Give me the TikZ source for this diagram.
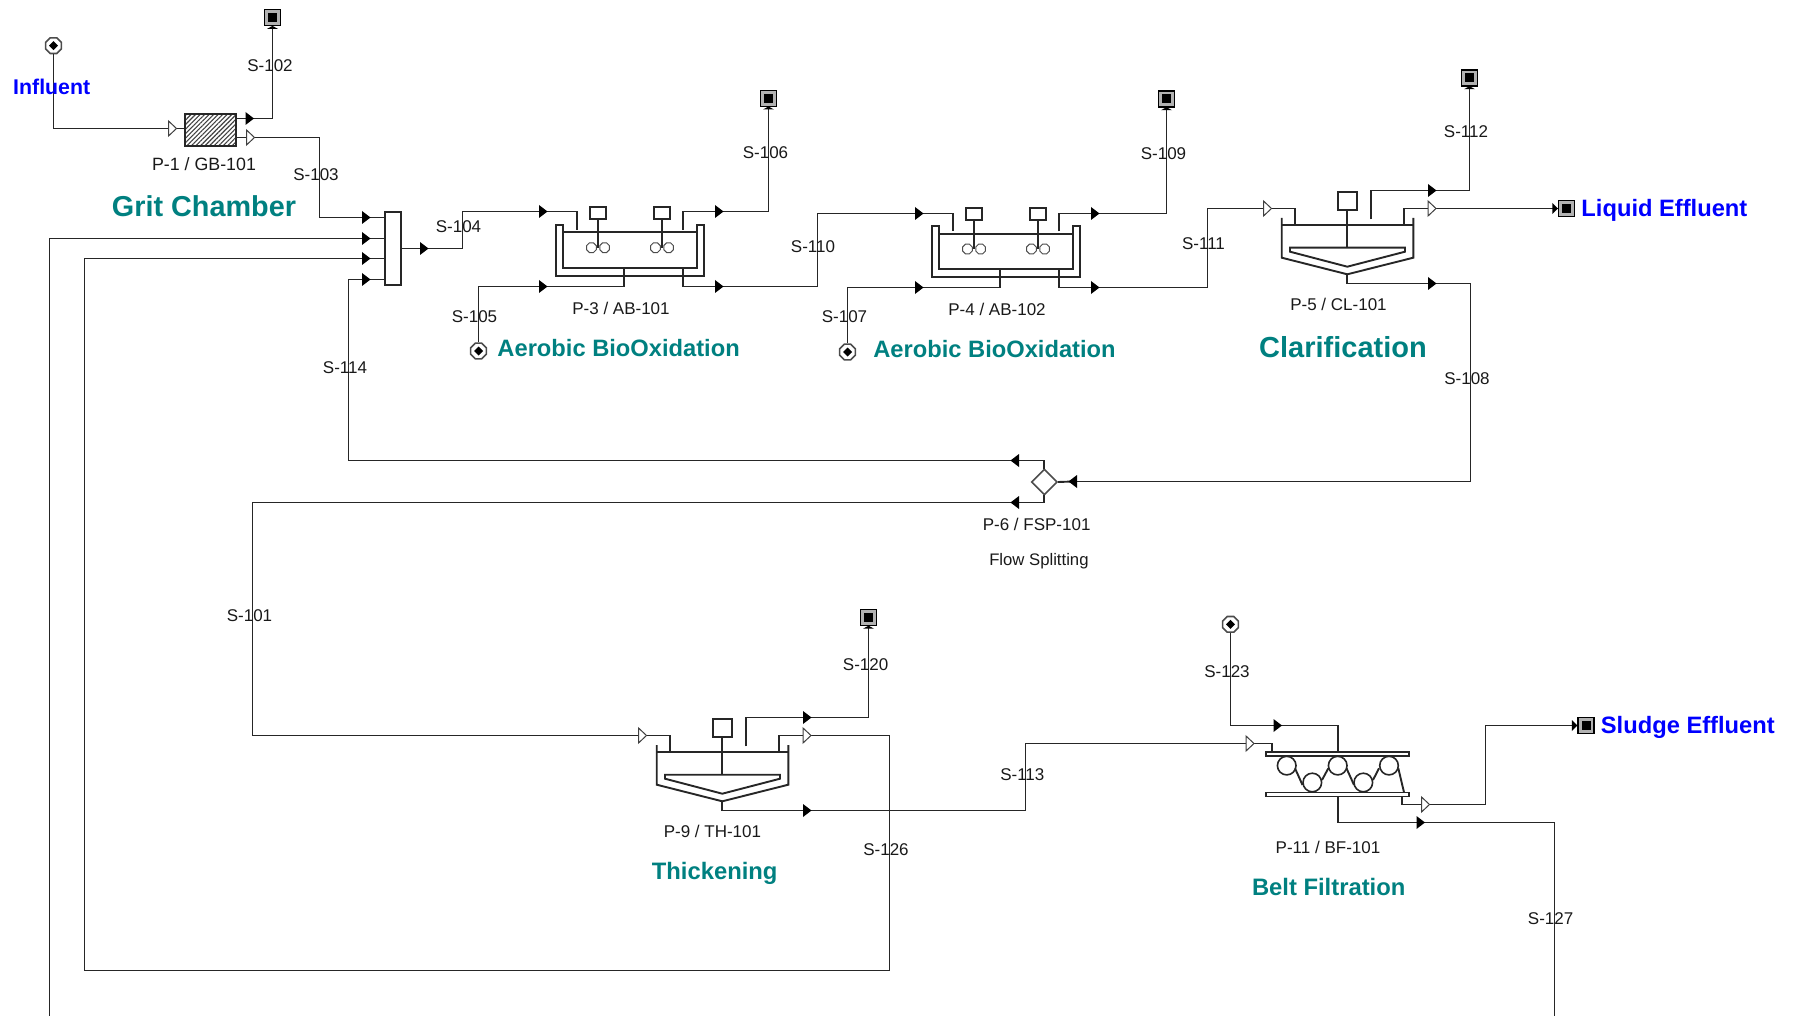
\documentclass[tikz,border=0pt]{standalone}
\usepackage{fontspec}
\setmainfont{Liberation Sans}
\usetikzlibrary{shapes.geometric,patterns.meta,calc}
\definecolor{tealtxt}{HTML}{008080}
\definecolor{bluetxt}{HTML}{0000FF}
\definecolor{ink}{HTML}{262626}
\tikzset{
  flow/.style={draw=ink,line width=1.2pt,line join=miter},
  equip/.style={draw=ink,line width=1.9pt,line join=miter},
  lab/.style={inner sep=0pt,yshift=-0.6pt,font=\fontsize{17}{20}\selectfont,text=black!90},
  smalllab/.style={inner sep=0pt,font=\fontsize{16.7}{20}\selectfont,text=black!90},
  heading/.style={inner sep=0pt,text=tealtxt,font=\fontsize{#1}{#1}\selectfont\bfseries},
  terminal/.style={inner sep=0pt,text=bluetxt,font=\fontsize{#1}{#1}\selectfont\bfseries},
  sinknode/.style={rectangle,draw=black,line width=1.4pt,fill=black!30,minimum size=16pt,inner sep=0pt,
    path picture={\fill[black] (-4.5,-4.5) rectangle (4.5,4.5);}},
  sourcenode/.style={regular polygon,regular polygon sides=8,draw=black!70,line width=1.6pt,fill=white,
    minimum size=17pt,inner sep=0pt,
    path picture={\fill[black] (-4.5,0) -- (0,-4.5) -- (4.5,0) -- (0,4.5) -- cycle;}},
  impeller/.style={regular polygon,regular polygon sides=8,draw=black!70,line width=1pt,fill=white,
    minimum size=10.5pt,inner sep=0pt},
  solidtip/.pic={\fill[black] (-4,-6.5) -- (4.5,0) -- (-4,6.5) -- cycle;},
  opentip/.pic={\draw[draw=black!75,fill=white,line width=1pt] (-3.5,-7.5) -- (4.5,0) -- (-3.5,7.5) -- cycle;},
  aerobic/.pic={
    \draw[equip] (-66.7,-25) -- (-74.3,-25) -- (-74.3,25.7) -- (74,25.7) -- (74,-25) -- (66.7,-25)
       -- (66.7,17.7) -- (-66.7,17.7) -- cycle;
    \draw[equip] (-66.7,-17.7) -- (66.7,-17.7);
    \draw[equip] (-40,-43.3) rectangle (-24,-31.3);
    \draw[equip] (24,-43.3) rectangle (40,-31.3);
    \draw[equip,line width=1.4pt] (-32,-31.3) -- (-32,-2.3);
    \draw[equip,line width=1.4pt] (32,-31.3) -- (32,-2.3);
    \node[impeller] (-ia) at (-38.6,-2.3) {};
    \node[impeller] (-ib) at (-25.4,-2.3) {};
    \node[impeller] (-ic) at (25.4,-2.3) {};
    \node[impeller] (-id) at (38.6,-2.3) {};
    \coordinate (-intop) at (-53.3,-20);
    \coordinate (-inbot) at (-6,17.7);
    \coordinate (-outtop) at (53.3,-20);
    \coordinate (-outbot) at (53.3,17.7);
  },
  settler/.pic={
    \draw[equip] (-65.6,-7.3) -- (-65.6,32.4) -- (0,49) -- (66,32.4) -- (66,-7.3);
    \draw[equip] (-65.6,0) -- (66,0);
    \draw[equip] (-57.3,22.4) -- (57.7,22.4) -- (57.7,26.4) -- (0,41.4) -- (-57.3,26.4) -- cycle;
    \draw[equip] (-9.3,-33) rectangle (9.7,-15.6);
    \draw[equip] (0,-15.6) -- (0,22.4);
    \coordinate (-in) at (-52.6,0);
    \coordinate (-top) at (23.7,-6);
    \coordinate (-out) at (56.7,0);
    \coordinate (-bot) at (0,49);
  },
}
\begin{document}
\begin{tikzpicture}[x=1pt,y=-1pt]
\useasboundingbox (0,0) rectangle (1793,1016);

% --- equipment
\node[rectangle,draw=ink,line width=1.8pt,minimum width=51pt,minimum height=32pt,inner sep=0pt,
  pattern={Lines[angle=45,distance=3.2pt,line width=1.1pt]},pattern color=black!75] (gb) at (210.2,130) {};
\node[rectangle,draw=ink,line width=1.8pt,minimum width=15.5pt,minimum height=73pt,inner sep=0pt] (mix) at (393,248.5) {};
\node[diamond,draw=black!70,line width=1.6pt,minimum width=26pt,minimum height=26pt,inner sep=0pt] (split) at (1044.3,482) {};
\pic (abA) at (630,250) {aerobic};
\pic (abB) at (1006,251.3) {aerobic};
\pic (cl) at (1347.3,225.3) {settler};
\pic (th) at (722.3,752.3) {settler};
% belt filter
\node[rectangle,draw=ink,line width=1.6pt,minimum width=143pt,minimum height=4pt,inner sep=0pt] (beltT) at (1337.7,753.7) {};
\node[rectangle,draw=ink,line width=1.6pt,minimum width=143pt,minimum height=4pt,inner sep=0pt] (beltB) at (1337.7,794.5) {};
\node[circle,draw=ink,line width=1.6pt,minimum size=18.6pt,inner sep=0pt] (r1) at (1286.7,765.6) {};
\node[circle,draw=ink,line width=1.6pt,minimum size=18.6pt,inner sep=0pt] (r2) at (1312.3,782.5) {};
\node[circle,draw=ink,line width=1.6pt,minimum size=18.6pt,inner sep=0pt] (r3) at (1337.7,765.6) {};
\node[circle,draw=ink,line width=1.6pt,minimum size=18.6pt,inner sep=0pt] (r4) at (1363.3,782.5) {};
\node[circle,draw=ink,line width=1.6pt,minimum size=18.6pt,inner sep=0pt] (r5) at (1389,765.6) {};
\draw[equip] (1295,768.3) -- (1302.5,785);
\draw[equip] (1322,780) -- (1328.3,768.3);
\draw[equip] (1346.5,768.3) -- (1354,785);
\draw[equip] (1373,780) -- (1379,768.3);
\draw[equip] (1398.3,768.3) -- (1404,792.3);

% --- sinks and sources
\node[sinknode] (s102) at (272.5,17.7) {};
\node[sinknode] (s106) at (768.5,98.3) {};
\node[sinknode] (s109) at (1166.5,99) {};
\node[sinknode] (s112) at (1469.5,78) {};
\node[sinknode] (s120) at (868.5,617.5) {};
\node[sinknode] (sLiq) at (1566.6,208.5) {};
\node[sinknode] (sSlu) at (1586,725.5) {};
\node[sourcenode] (srcIn) at (53.5,45.7) {};
\node[sourcenode] (src105) at (478.5,351) {};
\node[sourcenode] (src107) at (847.5,352) {};
\node[sourcenode] (src123) at (1230.5,624.3) {};

% --- marker positions on the streams
\coordinate (oIn) at (172,128.5);
\coordinate (t102) at (249.5,118.5);
\coordinate (o103) at (250,137.5);
\coordinate (tM1) at (366,217.5);
\coordinate (tM2) at (366,238.5);
\coordinate (tM3) at (366,258.5);
\coordinate (tM4) at (366,279.5);
\coordinate (tMx) at (424,248.5);
\coordinate (tA1) at (543,211.5);
\coordinate (tA2) at (543,286.5);
\coordinate (tA3) at (719,211.5);
\coordinate (tA4) at (719,286.5);
\coordinate (tB1) at (919,213.5);
\coordinate (tB2) at (919,287.5);
\coordinate (tB3) at (1095,213.5);
\coordinate (tB4) at (1095,287.5);
\coordinate (oCin) at (1267,208.5);
\coordinate (tCt) at (1432,190.5);
\coordinate (oCo) at (1431.5,208.5);
\coordinate (tCb) at (1432,283.5);
\coordinate (tS0) at (1073,481.5);
\coordinate (tS1) at (1015,460.5);
\coordinate (tS2) at (1015,502.5);
\coordinate (oTin) at (642,735.5);
\coordinate (tTt) at (807,717.5);
\coordinate (oTo) at (806.5,735.5);
\coordinate (tTb) at (807,810.5);
\coordinate (oBin) at (1249.5,743.5);
\coordinate (tBt) at (1277.5,725.5);
\coordinate (oBo) at (1425,804.5);
\coordinate (tBb) at (1420.5,822.5);
\coordinate (botL) at (49.5,1016);
\coordinate (botR) at (1554.5,1016);
\coordinate (belTop) at (1337.7,751.7);
\coordinate (belBot) at (1337.7,796.7);
\coordinate (belIn) at (1272.3,751.7);
\coordinate (belOut) at (1401.7,796.7);
\coordinate (splT) at (1044.3,469);
\coordinate (splB) at (1044.3,495);

% --- streams
\draw[flow] (srcIn.south) |- (oIn);
\draw[flow] (oIn) -- (gb.west |- oIn);
\draw[equip] (gb.east |- t102) -- (t102);
\draw[flow] (t102) -| (s102.south);
\draw[equip] (gb.east |- o103) -- (o103);
\draw[flow] (o103) -| (319.5,217.5) -- (tM1);
\draw[equip] (tM1) -- (mix.west |- tM1);
\draw[flow] (botL) |- (tM2);
\draw[equip] (tM2) -- (mix.west |- tM2);
\draw[equip] (tM3) -- (mix.west |- tM3);
\draw[equip] (tM4) -- (mix.west |- tM4);
\draw[equip] (mix.east |- tMx) -- (tMx);
\draw[flow] (tMx) -| (462.5,230) |- (tA1);
\draw[equip] (tA1) -| (abA-intop);
\draw[flow] (src105.north) |- (tA2);
\draw[equip] (tA2) -| (abA-inbot);
\draw[equip] (abA-outtop) |- (tA3);
\draw[flow] (tA3) -| (s106.south);
\draw[equip] (abA-outbot) |- (tA4);
\draw[flow] (tA4) -| (817.5,250) |- (tB1);
\draw[equip] (tB1) -| (abB-intop);
\draw[flow] (src107.north) |- (tB2);
\draw[equip] (tB2) -| (abB-inbot);
\draw[equip] (abB-outtop) |- (tB3);
\draw[flow] (tB3) -| (s109.south);
\draw[equip] (abB-outbot) |- (tB4);
\draw[flow] (tB4) -| (1207.5,250) |- (oCin);
\draw[equip] (oCin) -| (cl-in);
\draw[equip] (cl-top) |- (tCt);
\draw[flow] (tCt) -| (s112.south);
\draw[equip] (cl-out) |- (oCo);
\draw[flow] (oCo) -- (sLiq.west);
\draw[equip] (cl-bot) |- (tCb);
\draw[flow] (tCb) -| (1470.5,400) |- (tS0);
\draw[equip] (tS0) -- (split.east);
\draw[equip] (splT) |- (tS1);
\draw[flow] (tS1) -| (348.5,279.5) -- (tM4);
\draw[equip] (splB) |- (tS2);
\draw[flow] (tS2) -| (252.5,600) |- (oTin);
\draw[equip] (oTin) -| (th-in);
\draw[equip] (th-top) |- (tTt);
\draw[flow] (tTt) -| (s120.south);
\draw[equip] (th-out) |- (oTo);
\draw[flow] (oTo) -| (889.5,970.5) -| (84.5,258.5) -- (tM3);
\draw[equip] (th-bot) |- (tTb);
\draw[flow] (tTb) -| (1025.5,780) |- (oBin);
\draw[equip] (oBin) -| (belIn);
\draw[flow] (src123.south) |- (tBt);
\draw[equip] (tBt) -| (belTop);
\draw[equip] (belOut) |- (oBo);
\draw[flow] (oBo) -| (1485.5,760) |- (sSlu.west);
\draw[equip] (belBot) |- (tBb);
\draw[flow] (tBb) -| (botR);

% --- flow markers
\foreach \n in {t102,tM1,tM2,tM3,tM4,tMx,tA1,tA2,tA3,tA4,tB1,tB2,tB3,tB4,tCt,tCb,tTt,tTb,tBt,tBb}
  \pic at (\n) {solidtip};
\foreach \n in {tS0,tS1,tS2}
  \pic[rotate=180] at (\n) {solidtip};
\foreach \n in {oIn,o103,oCin,oCo,oTin,oTo,oBin,oBo}
  \pic at (\n) {opentip};
% small entry arrows at the sinks
\foreach \n in {s102,s106,s109,s112,s120}
  \fill[black] ($(\n.south)+(-5.5,2.5)$) -- ($(\n.south)+(0,-0.5)$) -- ($(\n.south)+(5.5,2.5)$) -- cycle;
\foreach \n in {sLiq,sSlu}
  \fill[black] ($(\n.west)+(-5.5,-5.5)$) -- ($(\n.west)+(0,0)$) -- ($(\n.west)+(-5.5,5.5)$) -- cycle;

% --- stream labels
\node[lab] (l102) at (270,65) {S-102};
\node[lab] (l103) at (316,174) {S-103};
\node[lab] (l104) at (458.5,226.5) {S-104};
\node[lab] (l105) at (474.5,315.6) {S-105};
\node[lab] (l106) at (765.5,152) {S-106};
\node[lab] (l110) at (813,246) {S-110};
\node[lab] (l107) at (844.5,316) {S-107};
\node[lab] (l109) at (1163.5,153) {S-109};
\node[lab] (l111) at (1203.5,243.5) {S-111};
\node[lab] (l112) at (1466,131.5) {S-112};
\node[lab] (l108) at (1467,378.5) {S-108};
\node[lab] (l114) at (345,367) {S-114};
\node[lab] (l101) at (249.5,615) {S-101};
\node[lab] (l120) at (865.6,664.4) {S-120};
\node[lab] (l123) at (1227,671) {S-123};
\node[lab] (l113) at (1022.3,774) {S-113};
\node[lab] (l126) at (886,849) {S-126};
\node[lab] (l127) at (1550.6,918) {S-127};

% --- equipment labels
\node[lab,font=\fontsize{17.8}{20}\selectfont] (p1) at (204,163.3) {P-1 / GB-101};
\node[lab] (p3) at (621,308) {P-3 / AB-101};
\node[lab] (p4) at (997,308.4) {P-4 / AB-102};
\node[lab] (p5) at (1338.5,303.7) {P-5 / CL-101};
\node[lab] (p6) at (1036.6,524) {P-6 / FSP-101};
\node[smalllab] (p6b) at (1038.9,560.7) {Flow Splitting};
\node[lab] (p9) at (712.4,831) {P-9 / TH-101};
\node[lab] (p11) at (1328,846.4) {P-11 / BF-101};

% --- headings
\node[heading=28.8] (hGrit) at (204,205.8) {Grit Chamber};
\node[heading=23.7] (hAer1) at (618.6,348.2) {Aerobic BioOxidation};
\node[heading=23.7] (hAer2) at (994.5,348.8) {Aerobic BioOxidation};
\node[heading=29] (hCla) at (1343,347) {Clarification};
\node[heading=23.8] (hThi) at (714.7,873.3) {Thickening};
\node[heading=23.8] (hBel) at (1328.7,887.4) {Belt Filtration};
\node[terminal=21.3] (tInf) at (51.7,86.5) {Influent};
\node[terminal=23.7] (tLiq) at (1664.4,210) {Liquid Effluent};
\node[terminal=23.7] (tSlu) at (1687.8,727.5) {Sludge Effluent};
\end{tikzpicture}
\end{document}
